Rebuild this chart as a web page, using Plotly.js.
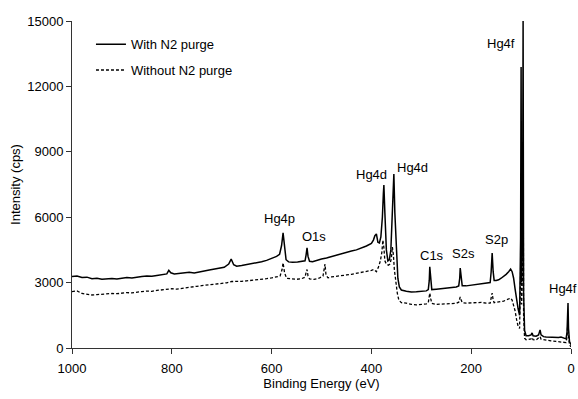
<!DOCTYPE html>
<html>
<head>
<meta charset="utf-8">
<script src="https://cdn.plot.ly/plotly-3.0.1.min.js"></script>
<style>html,body{margin:0;padding:0;background:#fff;}#chart{width:578px;height:399px;}</style>
</head>
<body>
<div id="chart"></div>
<script>
// Series: With N2 purge (solid)
var withPurgeE = [1000,990,980,970,960,950,940,930,920,910,900,890,880,870,860,850,840,830,820,810,806,802,795,785,775,765,755,745,735,725,715,705,695,686,681,676,670,660,650,640,630,620,610,600,590,584,580,577,574,571,566,558,548,538,533,531,529,527,524,518,510,500,490,480,470,460,450,440,430,420,410,400,396,393,390,387,384,381,378,376,375,373,370,367,364,361,358,356,355,353,350,347,344,340,330,320,310,300,290,286,284,283,281,279,270,260,250,240,230,225,223,222,220,218,210,200,190,180,170,162,160,158,156,154,150,145,140,135,130,125,121,118,115,112,109,106,103,101,100,99,97,96,95,93,90,85,80,78,76,70,65,62,60,55,50,40,30,25,20,15,10,8,7,6,5,3,0];
var withPurgeI = [3280,3300,3230,3250,3180,3200,3150,3170,3190,3160,3200,3230,3210,3260,3280,3300,3290,3330,3360,3400,3560,3450,3400,3420,3450,3480,3440,3500,3530,3580,3620,3650,3700,3850,4080,3820,3750,3780,3820,3880,3900,3960,4020,4100,4200,4300,4700,5280,4600,4050,3950,3930,3950,3970,4000,4250,4590,4200,3980,3960,4020,4080,4130,4200,4260,4320,4380,4450,4500,4580,4680,4800,4950,5150,5230,4850,4820,5100,6000,7100,7470,6200,4500,4000,4050,4500,6200,7600,7980,6200,4200,3200,2800,2660,2600,2570,2580,2600,2620,2680,3100,3720,3000,2680,2700,2720,2740,2760,2800,2850,3200,3670,3100,2850,2850,2880,2930,2960,2980,3000,3500,4360,3500,3100,3100,3130,3200,3280,3380,3500,3620,3500,3200,2700,2200,1800,1500,5000,12890,3000,6000,15000,2500,800,560,560,600,690,560,540,600,830,600,520,500,480,460,480,500,450,420,700,1400,2060,900,300,150];

// Series: Without N2 purge (dashed)
var withoutPurgeE = [1000,990,980,970,962,950,940,930,920,910,900,890,880,870,860,850,840,830,820,810,800,790,780,770,760,750,740,730,720,710,700,690,680,670,660,650,640,630,620,610,600,590,583,579,577,574,570,560,550,540,533,531,529,527,524,515,505,497,495,493,491,487,480,470,460,450,440,430,420,410,400,395,390,386,382,379,377,375,373,370,366,363,360,358,356,354,351,348,345,340,330,320,310,300,290,286,284,283,281,279,270,260,250,240,230,225,223,222,220,218,210,200,190,180,170,162,160,158,156,154,150,140,135,130,125,121,118,115,112,109,106,103,101,100,99,97,96,95,93,90,80,78,76,70,62,60,50,40,30,20,10,8,6,5,3,0];
var withoutPurgeI = [2590,2620,2500,2460,2430,2450,2470,2460,2500,2490,2520,2540,2530,2570,2590,2610,2600,2640,2660,2700,2720,2700,2740,2780,2800,2830,2860,2880,2900,2940,2960,2990,3050,3040,3060,3080,3100,3120,3150,3180,3220,3250,3300,3600,3900,3450,3200,3170,3150,3180,3250,3450,3600,3300,3170,3150,3200,3300,3600,3850,3350,3220,3260,3280,3320,3350,3380,3420,3450,3500,3560,3600,3500,3700,4000,4400,4950,4600,4000,3850,3800,3850,4100,4630,4300,3600,3000,2500,2200,2080,2060,2000,1980,2000,2020,2080,2300,2520,2250,2050,2000,2010,2030,2020,2050,2100,2250,2340,2200,2080,2060,2070,2080,2090,2060,2060,2300,2520,2200,2080,2100,2120,2150,2200,2250,2290,2200,2000,1700,1300,1000,900,3500,8000,2000,4000,9450,1500,450,380,420,480,380,360,520,400,350,330,300,280,250,500,1380,500,150,50];

var xTicks = [1000, 800, 600, 400, 200, 0];
var yTicks = [0, 3000, 6000, 9000, 12000, 15000];

// Peak labels
var labelText = ["Hg4p", "O1s", "Hg4d", "Hg4d", "C1s", "S2s", "S2p", "Hg4f", "Hg4f"];
var labelE    = [585, 515, 399, 317, 279, 216, 150, 140, 16];
var labelI    = [5920, 5100, 7980, 8300, 4230, 4320, 4960, 13980, 2720];

var FONT = "Liberation Sans, Arial, sans-serif";
var FS = 13;

var traces = [
  {x: withPurgeE, y: withPurgeI, type: "scatter", mode: "lines", name: "With N2 purge",
   legendgroup: "a", line: {color: "#000", width: 1.5}},
  {x: withoutPurgeE, y: withoutPurgeI, type: "scatter", mode: "lines", name: "Without N2 purge",
   legendgroup: "b", line: {color: "#000", width: 1.3, dash: "3px,2px"}}
];

var annotations = labelText.map(function (t, i) {
  return {x: labelE[i], y: labelI[i], xref: "x", yref: "y", text: t, showarrow: false,
          font: {family: FONT, size: FS, color: "#000"}};
});

var axisCommon = {
  showline: true, linecolor: "#333", linewidth: 1, ticks: "outside", ticklen: 5,
  tickcolor: "#333", tickwidth: 1, showgrid: false, zeroline: false,
  tickfont: {family: FONT, size: FS, color: "#000"}
};

var layout = {
  width: 578, height: 399,
  margin: {l: 72, r: 7, t: 21, b: 51, pad: 0},
  paper_bgcolor: "#fff", plot_bgcolor: "#fff",
  font: {family: FONT, size: FS, color: "#000"},
  showlegend: true,
  legend: {x: 0.038, y: 0.975, xanchor: "left", yanchor: "top", bgcolor: "rgba(0,0,0,0)",
           font: {family: FONT, size: FS, color: "#000"}, traceorder: "grouped", tracegroupgap: 6},
  xaxis: Object.assign({}, axisCommon, {
    range: [1000, 0], tickvals: xTicks, ticktext: xTicks.map(String), ticklabelstandoff: 3,
    title: {text: "Binding Energy (eV)", font: {family: FONT, size: FS, color: "#000"}, standoff: 4}
  }),
  yaxis: Object.assign({}, axisCommon, {
    range: [0, 15000], tickvals: yTicks, ticktext: yTicks.map(String),
    title: {text: "Intensity (cps)", font: {family: FONT, size: FS, color: "#000"}, standoff: 3}
  }),
  annotations: annotations
};

Plotly.newPlot("chart", traces, layout, {staticPlot: true, displayModeBar: false});
</script>
</body>
</html>
